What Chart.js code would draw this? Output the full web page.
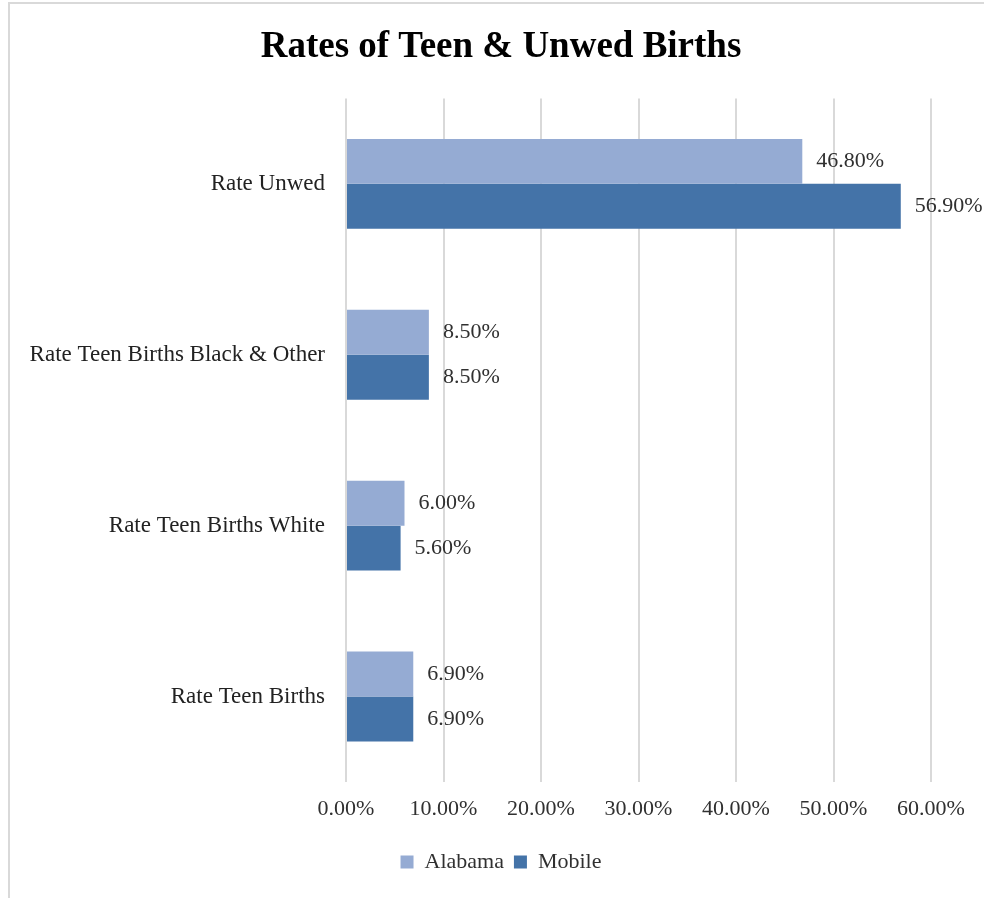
<!DOCTYPE html>
<html>
<head>
<meta charset="utf-8">
<script src="https://cdn.jsdelivr.net/npm/chart.js@4"></script>
<style>
  html, body { margin: 0; padding: 0; background: #fff; }
  .frame {
    position: absolute; left: 8px; top: 2px; width: 1000px; height: 894px;
    border-left: 2px solid #d9d9d9; border-top: 2px solid #d9d9d9;
  }
  .chart-container { position: absolute; left: 0; top: 0; width: 984px; height: 898px; }
</style>
</head>
<body>
<div class="frame"></div>
<div class="chart-container"><canvas id="births-chart"></canvas></div>
<script>
const categories = ['Rate Unwed', 'Rate Teen Births Black & Other', 'Rate Teen Births White', 'Rate Teen Births'];
const alabama = [46.8, 8.5, 6.0, 6.9];
const mobile = [56.9, 8.5, 5.6, 6.9];
const xTicks = [0, 10, 20, 30, 40, 50, 60];

const serif = "'Liberation Serif', 'DejaVu Serif', serif";
const textColor = '#303030';

// Draw the value labels just right of each bar end
const barLabels = {
  id: 'barLabels',
  afterDatasetsDraw(chart) {
    const ctx = chart.ctx;
    ctx.save();
    ctx.font = `22px ${serif}`;
    ctx.fillStyle = textColor;
    ctx.textAlign = 'left';
    ctx.textBaseline = 'middle';
    chart.data.datasets.forEach((ds, i) => {
      chart.getDatasetMeta(i).data.forEach((bar, j) => {
        ctx.fillText(ds.data[j].toFixed(2) + '%', bar.x + 14, bar.y);
      });
    });
    ctx.restore();
  }
};

const ctx = document.getElementById('births-chart').getContext('2d');
new Chart(ctx, {
  type: 'bar',
  data: {
    labels: categories,
    datasets: [
      {
        label: 'Alabama',
        data: alabama,
        backgroundColor: '#95abd3',
        categoryPercentage: 0.526,
        barPercentage: 1.0
      },
      {
        label: 'Mobile',
        data: mobile,
        backgroundColor: '#4473a8',
        categoryPercentage: 0.526,
        barPercentage: 1.0
      }
    ]
  },
  options: {
    indexAxis: 'y',
    responsive: true,
    maintainAspectRatio: false,
    animation: false,
    layout: { padding: { left: 18, right: 0, top: 0, bottom: 15 } },
    scales: {
      x: {
        min: 0,
        max: 60,
        afterBuildTicks: (scale) => { scale.ticks = xTicks.map(v => ({ value: v })); },
        afterFit: (scale) => { scale.height = 59; },
        grid: { color: '#d9d9d9', lineWidth: 2, drawTicks: false },
        border: { display: false },
        ticks: {
          padding: 14,
          color: textColor,
          font: { family: serif, size: 22 },
          callback: (v) => v.toFixed(2) + '%'
        }
      },
      y: {
        afterFit: (scale) => { scale.width = 328; },
        grid: { display: false, drawTicks: false },
        border: { display: false },
        ticks: {
          padding: 21,
          color: '#222',
          font: { family: serif, size: 23 }
        }
      },
      // empty spacer on the right so the title stays centred on the full width
      spacer: {
        position: 'right',
        axis: 'y',
        display: true,
        afterFit: (scale) => { scale.width = 53; },
        grid: { display: false, drawTicks: false },
        border: { display: false },
        ticks: { display: false }
      }
    },
    plugins: {
      title: {
        display: true,
        text: 'Rates of Teen & Unwed Births',
        color: '#000',
        font: { family: serif, size: 37, weight: 'bold' },
        padding: { top: 25, bottom: 29 }
      },
      legend: {
        position: 'bottom',
        labels: {
          color: textColor,
          font: { family: serif, size: 22 },
          boxWidth: 13,
          boxHeight: 13,
          padding: 10
        }
      },
      tooltip: { enabled: false }
    }
  },
  plugins: [barLabels]
});
</script>
</body>
</html>
